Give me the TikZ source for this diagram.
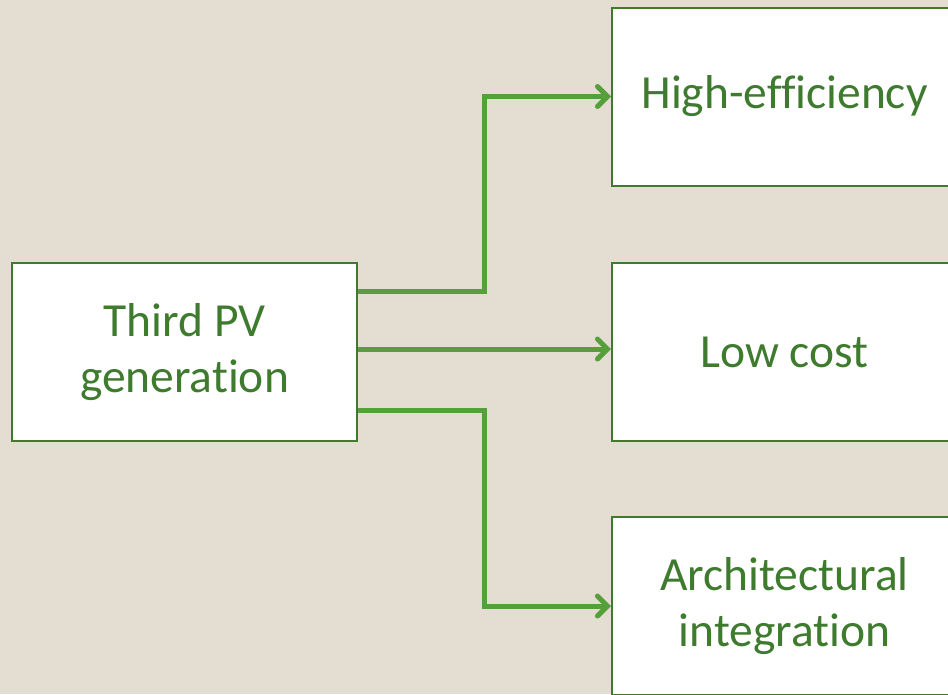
\documentclass[tikz,border=0pt]{standalone}
\usepackage{fontspec}
\setmainfont{Carlito}[Ligatures=NoCommon]
\usetikzlibrary{arrows.meta}
\definecolor{paper}{HTML}{E3DDD2}
\definecolor{boxline}{HTML}{3F7A2E}
\definecolor{labelgreen}{HTML}{3E7B2E}
\definecolor{linkgreen}{HTML}{56A03B}
\begin{document}
\begin{tikzpicture}[x=1pt,y=-1pt,
    box/.style={draw=boxline,line width=2pt,fill=white,minimum width=345pt,
        minimum height=178pt,inner sep=0pt,align=center,text=labelgreen,
        font=\fontsize{47.5}{56}\selectfont},
    link/.style={draw=linkgreen,line width=5pt,
        -{Straight Barb[length=10pt,width=20pt,line cap=round]}}]
    % page and background
    \clip (0,0) rectangle (948,694);
    \fill[paper] (0,0) rectangle (948,694);

    % left box and the three targets
    \node[box] (third) at (184.5,352) {Third PV\\generation};
    \node[box] (high) at (784.5,96.5) {High-efficiency};
    \node[box] (low) at (784.5,352) {Low cost};
    \node[box] (arch) at (784.5,606) {Architectural\\integration};

    % connectors
    \draw[link] ([yshift=61pt]third.east) -- ++(126,0) |- (high.west);
    \draw[link] ([yshift=3pt]third.east) -- ([yshift=3pt]low.west);
    \draw[link] ([yshift=-58pt]third.east) -- ++(126,0) |- (arch.west);
\end{tikzpicture}
\end{document}
